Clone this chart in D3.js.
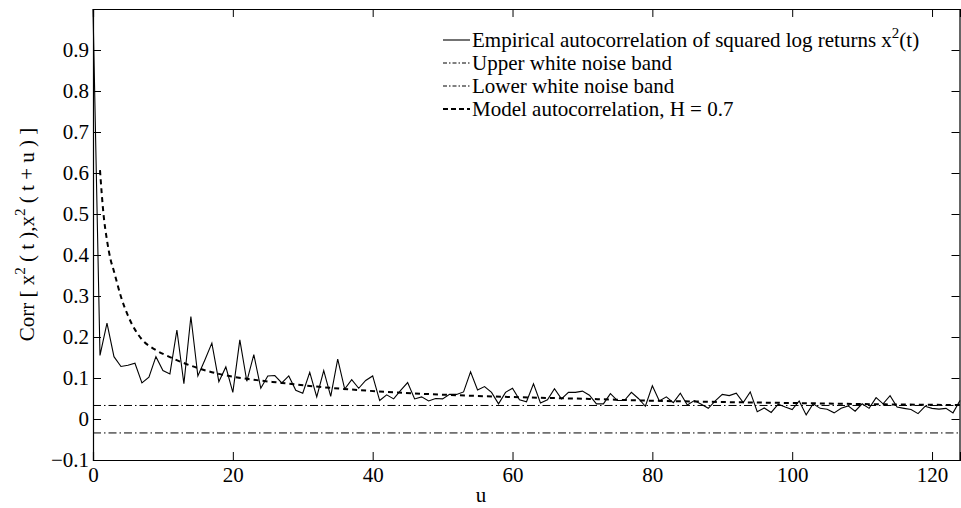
<!DOCTYPE html>
<html><head><meta charset="utf-8">
<script src="https://cdn.jsdelivr.net/npm/d3@7"></script>
<style>
html,body{margin:0;padding:0;background:#fff;}
svg{display:block;font-family:"Liberation Serif","Times New Roman",serif;}
</style></head>
<body><svg id="chart" width="961" height="508"></svg>
<script>
// ---- data ----
const empirical = [1.0,0.155,0.234,0.152,0.128,0.131,0.136,0.088,0.102,0.152,
0.118,0.110,0.217,0.086,0.250,0.105,0.144,0.185,0.091,0.127,
0.065,0.193,0.092,0.157,0.075,0.105,0.106,0.088,0.105,0.070,
0.063,0.114,0.054,0.118,0.055,0.146,0.073,0.096,0.075,0.094,
0.105,0.045,0.059,0.049,0.070,0.089,0.049,0.054,0.044,0.050,
0.049,0.060,0.060,0.066,0.115,0.071,0.079,0.065,0.037,0.065,
0.075,0.047,0.042,0.086,0.039,0.047,0.074,0.049,0.065,0.065,
0.068,0.058,0.037,0.037,0.062,0.045,0.045,0.065,0.050,0.031,
0.081,0.044,0.054,0.040,0.063,0.034,0.045,0.036,0.026,0.044,
0.060,0.057,0.063,0.040,0.066,0.018,0.027,0.016,0.036,0.029,
0.023,0.044,0.010,0.037,0.026,0.024,0.015,0.026,0.032,0.019,
0.037,0.026,0.052,0.037,0.057,0.029,0.026,0.023,0.013,0.031,
0.026,0.024,0.026,0.015,0.045];
const modelU = [1,1.5,2,2.5,3,4,5,6,7,9,11,14,18,22,27,32,42,52,61,71,79,88,100,112,124];
const modelV = [0.607,0.50,0.436,0.39,0.36,0.298,0.252,0.218,0.194,0.168,0.151,0.13,0.11,0.098,0.088,0.079,0.066,0.058,0.053,0.049,0.045,0.042,0.039,0.036,0.034];
const upperBand = 0.033;
const lowerBand = -0.034;
const xTicks = [0,20,40,60,80,100,120];
const yTicks = [-0.1,0,0.1,0.2,0.3,0.4,0.5,0.6,0.7,0.8,0.9];
const legendLabels = ["Empirical autocorrelation of squared log returns x", "Upper white noise band", "Lower white noise band", "Model autocorrelation, H = 0.7"];

// ---- layout ----
const W = 961, H = 508;
const m = {left: 93, right: 1, top: 9, bottom: 48};
const svg = d3.select("#chart");
const x = d3.scaleLinear().domain([0,124]).range([m.left, W - m.right]);
const y = d3.scaleLinear().domain([-0.1,1.0]).range([H - m.bottom, m.top]);
const FS = 21, SUP = 15;

const g = svg.append("g");

// bands
const bandDash = "8,3,1.5,3";
[upperBand, lowerBand].forEach(b=>{
  g.append("line").attr("x1", x(0)).attr("x2", x(124)).attr("y1", y(b)).attr("y2", y(b))
    .attr("stroke","#000").attr("stroke-width",1).attr("stroke-dasharray",bandDash);
});

// model
const modelData = modelU.map((u,i)=>[u, modelV[i]]);
g.append("path").datum(modelData)
  .attr("d", d3.line().x(d=>x(d[0])).y(d=>y(d[1])).curve(d3.curveMonotoneX))
  .attr("fill","none").attr("stroke","#000").attr("stroke-width",2).attr("stroke-dasharray","5,4");

// empirical
g.append("path").datum(empirical)
  .attr("d", d3.line().x((d,i)=>x(i)).y(d=>y(d)))
  .attr("fill","none").attr("stroke","#000").attr("stroke-width",1.1);

// axes box
const tl = 8;
const axB = svg.append("g").attr("transform",`translate(0,${H-m.bottom})`)
  .call(d3.axisBottom(x).tickValues(xTicks).tickSize(-tl).tickPadding(7).tickFormat(d3.format("d")));
const axT = svg.append("g").attr("transform",`translate(0,${m.top})`)
  .call(d3.axisTop(x).tickValues(xTicks).tickSize(-tl).tickFormat(""));
const axL = svg.append("g").attr("transform",`translate(${m.left},0)`)
  .call(d3.axisLeft(y).tickValues(yTicks).tickSize(-tl).tickPadding(4)
    .tickFormat(d => d < 0 ? "\u22120.1" : (d===0 ? "0" : d3.format(".1f")(d))));
const axR = svg.append("g").attr("transform",`translate(${W-m.right-0.5},0)`)
  .call(d3.axisRight(y).tickValues(yTicks).tickSize(-tl).tickFormat(""));
[axB,axT,axL,axR].forEach(a=>{
  a.selectAll(".domain").attr("stroke","#000").attr("stroke-width",1.2);
  a.selectAll(".tick line").attr("stroke","#000").attr("stroke-width",1);
  a.selectAll("text").attr("font-family",'"Liberation Serif",serif').attr("font-size",FS).attr("fill","#000");
});

// axis labels
svg.append("text").attr("x", 481).attr("y", 502)
  .attr("text-anchor","middle").attr("font-size",FS).text("u");
const yl = svg.append("text").attr("transform",`translate(34,${(m.top + H - m.bottom)/2}) rotate(-90)`)
  .attr("text-anchor","middle").attr("font-size",FS);
yl.append("tspan").text("Corr [ x");
yl.append("tspan").attr("dy",-9).attr("font-size",SUP).text("2");
yl.append("tspan").attr("dy",9).text(" ( t ),x");
yl.append("tspan").attr("dy",-9).attr("font-size",SUP).text("2");
yl.append("tspan").attr("dy",9).text(" ( t + u ) ]");

// legend
const lg = svg.append("g");
const lx0 = 443, lx1 = 470, ly0 = 40, ldy = 23;
const styles = [
  {w:1.1, dash:null},
  {w:1, dash:"4,2,1.5,2"},
  {w:1, dash:"4,2,1.5,2"},
  {w:2, dash:"5,3"}
];
legendLabels.forEach((lab,i)=>{
  const yy = ly0 + i*ldy;
  lg.append("line").attr("x1",lx0).attr("x2",lx1).attr("y1",yy).attr("y2",yy)
    .attr("stroke","#000").attr("stroke-width",styles[i].w)
    .attr("stroke-dasharray",styles[i].dash);
  const t = lg.append("text").attr("x",lx1+2).attr("y",yy).attr("dy","0.35em").attr("font-size",FS);
  t.append("tspan").text(lab);
  if(i===0){
    t.append("tspan").attr("dy",-9).attr("font-size",SUP).text("2");
    t.append("tspan").attr("dy",9).text("(t)");
  }
});
</script>
</body></html>
